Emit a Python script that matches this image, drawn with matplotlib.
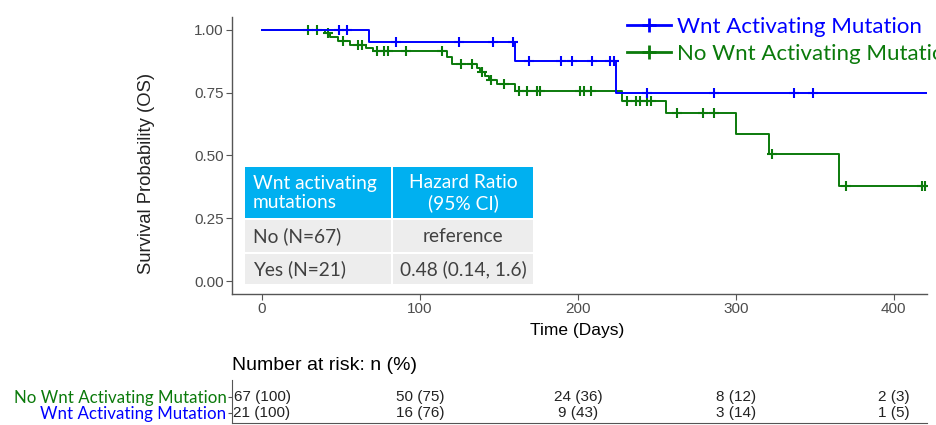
import numpy as np
import matplotlib.pyplot as plt
from matplotlib.lines import Line2D
from matplotlib.patches import Rectangle

# Kaplan-Meier steps
wnt_t = [0, 68, 160, 224]
wnt_s = [1.0, 0.952, 0.874, 0.75]
wnt_cens = [49, 54, 85, 125, 146, 159, 169, 189, 196, 209, 220, 223, 244, 286, 337, 349]

nownt_t = [0, 40, 43, 48, 56, 66, 70, 117, 120, 136, 138, 141, 144, 149, 160, 228, 256, 300, 321, 365]
nownt_s = [1.0, 0.985, 0.97, 0.955, 0.94, 0.927, 0.913, 0.89, 0.862, 0.846, 0.83, 0.815,
           0.80, 0.784, 0.756, 0.717, 0.669, 0.587, 0.504, 0.38]
nownt_cens = [29, 35, 42, 51, 61, 63, 73, 77, 80, 91, 114, 126, 133, 139, 145, 153, 163, 168,
              174, 176, 201, 204, 208, 231, 237, 239, 244, 246, 263, 279, 286, 323, 370, 418, 420]
t_end = 421

risk_times = [0, 100, 200, 300, 400]
risk_nownt = ['67 (100)', '50 (75)', '24 (36)', '8 (12)', '2 (3)']
risk_wnt = ['21 (100)', '16 (76)', '9 (43)', '3 (14)', '1 (5)']

hr_header = ['Wnt activating\nmutations', 'Hazard Ratio\n(95% CI)']
hr_rows = [['No (N=67)', 'reference'], ['Yes (N=21)', '0.48 (0.14, 1.6)']]

blue = '#0000ff'
green = '#0b7a0b'
cal = ['Lato', 'DejaVu Sans']
arial = ['Liberation Sans', 'DejaVu Sans']

fig = plt.figure(figsize=(9.37, 4.25), dpi=100)
W, H = 937, 425
ax = fig.add_axes([232 / W, 1 - 294 / H, 695 / W, 277 / H])


def km(ax, t, s, cens, col):
    tt = list(t) + [t_end]
    ss = list(s) + [s[-1]]
    ax.step(tt, ss, where='post', color=col, lw=1.4)
    idx = np.searchsorted(t, cens, side='right') - 1
    ax.plot(cens, np.array(s)[idx], ls='none', marker='+', ms=7.5, mew=1.5, color=col)


km(ax, nownt_t, nownt_s, nownt_cens, green)
km(ax, wnt_t, wnt_s, wnt_cens, blue)

ax.set_xlim(-19, 421)
ax.set_ylim(-0.05, 1.05)
ax.set_xticks([0, 100, 200, 300, 400])
ax.set_yticks([0, 0.25, 0.5, 0.75, 1.0])
ax.set_yticklabels(['0.00', '0.25', '0.50', '0.75', '1.00'])
for side in ['top', 'right']:
    ax.spines[side].set_visible(False)
for side in ['left', 'bottom']:
    ax.spines[side].set_color('#555555')
    ax.spines[side].set_linewidth(1.0)
ax.tick_params(length=4, color='#555555', labelcolor='#4d4d4d', labelsize=11, pad=2)
for lab in ax.get_xticklabels() + ax.get_yticklabels():
    lab.set_family(arial)
ax.set_ylabel('Survival Probability (OS)', fontsize=13.3, family=arial, color='#222222')
ax.yaxis.set_label_coords(-0.111, 0.437)
ax.set_xlabel('Time (Days)', fontsize=12.5, family=arial)
ax.xaxis.set_label_coords(0.497, -0.105)

handles = [Line2D([], [], color=blue, lw=2, marker='+', ms=10, mew=2),
           Line2D([], [], color=green, lw=2, marker='+', ms=10, mew=2)]
fig.legend(handles, ['Wnt Activating Mutation', 'No Wnt Activating Mutation'],
           loc='upper left', bbox_to_anchor=(627 / W, 1 - 17 / H), frameon=False,
           prop={'family': cal, 'size': 16}, labelcolor=[blue, green],
           handlelength=2.0, handletextpad=0.25, borderpad=0, borderaxespad=0,
           labelspacing=0.3, numpoints=1)

# hazard ratio table, pixel units
tab = fig.add_axes([245 / W, 1 - 284 / H, 288 / W, 117 / H])
tab.set_xlim(0, 288)
tab.set_ylim(117, 0)
tab.axis('off')
tab.add_patch(Rectangle((0, 0), 288, 51, color='#00b0f0', lw=0))
tab.add_patch(Rectangle((0, 53), 288, 32, color='#ededed', lw=0))
tab.add_patch(Rectangle((0, 87), 288, 30, color='#ededed', lw=0))
tab.add_patch(Rectangle((146, 0), 2, 117, color='white', lw=0))
tab.text(8, 26, hr_header[0], ha='left', va='center', color='white', fontsize=13.8,
         family=cal, linespacing=1.2)
tab.text(218, 26, hr_header[1], ha='center', va='center', color='white', fontsize=13.8,
         family=cal, linespacing=1.2)
for i, row in enumerate(hr_rows):
    yc = 69 + i * 33
    tab.text(8, yc, row[0], ha='left', va='center', color='#404040', fontsize=13.8, family=cal)
    tab.text(218, yc, row[1], ha='center', va='center', color='#404040', fontsize=13.8, family=cal)

# number at risk table
rk = fig.add_axes([232 / W, 1 - 423 / H, 695 / W, 43 / H])
rk.set_xlim(-19, 421)
rk.set_ylim(-0.625, 2.06)
for side in ['top', 'right']:
    rk.spines[side].set_visible(False)
for side in ['left', 'bottom']:
    rk.spines[side].set_color('#555555')
rk.set_xticks([])
rk.set_yticks([1, 0])
rk.set_yticklabels(['No Wnt Activating Mutation', 'Wnt Activating Mutation'], family=cal, fontsize=12.2)
rk.get_yticklabels()[0].set_color(green)
rk.get_yticklabels()[1].set_color(blue)
rk.tick_params(axis='y', length=3, color='#555555', pad=1)
for x, a, b in zip(risk_times, risk_nownt, risk_wnt):
    rk.text(x, 1, a, ha='center', va='center', fontsize=11, family=arial, color='#222222')
    rk.text(x, 0, b, ha='center', va='center', fontsize=11, family=arial, color='#222222')
fig.text(232 / W, 1 - 365 / H, 'Number at risk: n (%)', ha='left', va='center',
         fontsize=14, family=arial, color='black')

fig.savefig('out.png', dpi=100)
